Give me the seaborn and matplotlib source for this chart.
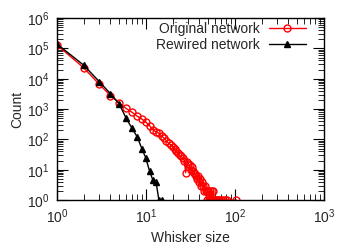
import numpy as np
import pandas as pd
import seaborn as sns
import matplotlib
matplotlib.use("Agg")
import matplotlib.pyplot as plt

# whisker size distribution
orig_size = [1, 2, 3, 4, 5, 6, 7, 8, 9, 10, 11, 12, 13, 14, 15, 16, 17, 18, 19, 20,
             21, 22, 23, 24, 25, 26, 27, 28, 29, 30, 31, 32, 33, 34, 35, 36, 37, 38,
             39, 40, 41, 42, 43, 44, 45, 46, 47, 48, 49, 50, 51, 52, 53, 54, 55, 56,
             57, 58, 60, 62, 63, 65, 67, 70, 74, 78, 81, 104]
orig_count = [1.3e5, 2.3e4, 6.5e3, 2.8e3, 1.6e3, 1050, 780, 580, 470, 370, 280, 210,
              175, 160, 130, 110, 88, 75, 66, 56, 48, 40, 36, 30, 28, 24, 20, 8, 18,
              16, 14, 10, 12, 9, 8, 7, 6, 5, 6, 4, 5, 3, 4, 3, 2, 3, 2, 1, 2, 2, 1,
              2, 1, 1, 2, 1, 2, 1, 1, 1, 1, 1, 1, 1, 1, 1, 1, 1]

rew_size = [1, 2, 3, 4, 5, 6, 7, 8, 9, 10, 11, 12, 13, 14, 15]
rew_count = [1.4e5, 2.8e4, 8.0e3, 3.2e3, 1.5e3, 500, 230, 120, 50, 24, 9, 4.5, 4, 1, 1]

sns.set_style("ticks")
plt.rcParams["font.family"] = ["Liberation Sans", "DejaVu Sans"]
plt.rcParams["mathtext.fontset"] = "custom"
plt.rcParams["mathtext.rm"] = "Liberation Sans"

fig = plt.figure(figsize=(3.49, 2.44), dpi=100)
ax = fig.add_axes([0.163, 0.180, 0.765, 0.746])

df_o = pd.DataFrame({"x": orig_size, "y": orig_count})
df_r = pd.DataFrame({"x": rew_size, "y": rew_count})

sns.lineplot(data=df_o, x="x", y="y", ax=ax, color="red", lw=1,
             marker="o", markersize=5, markerfacecolor="none",
             markeredgecolor="red", markeredgewidth=1,
             estimator=None, label="Original network")
sns.lineplot(data=df_r, x="x", y="y", ax=ax, color="black", lw=1,
             marker="^", markersize=5, markerfacecolor="black",
             markeredgecolor="black", markeredgewidth=1,
             estimator=None, label="Rewired network")

ax.set_xscale("log")
ax.set_yscale("log")
ax.set_xlim(1, 1000)
ax.set_ylim(1, 1e6)
ax.set_xlabel("Whisker size", fontsize=10, labelpad=4)
ax.set_ylabel("Count", fontsize=10, labelpad=2)

ax.tick_params(which="both", direction="in", top=True, right=True,
               labelsize=10, color="black")
ax.tick_params(which="major", length=8, width=0.8, pad=5)
ax.tick_params(which="minor", length=4, width=0.6)
ax.yaxis.set_minor_locator(matplotlib.ticker.LogLocator(base=10, subs=np.arange(2, 10), numticks=20))
ax.yaxis.set_minor_formatter(matplotlib.ticker.NullFormatter())
for s in ax.spines.values():
    s.set_linewidth(1)
    s.set_color("black")

ax.legend(loc="upper right", frameon=False, fontsize=10, markerfirst=False,
          handlelength=2.7, handletextpad=0.6, labelspacing=0.15,
          borderaxespad=0.2, bbox_to_anchor=(0.965, 1.025))

fig.savefig("out.png", dpi=100)
